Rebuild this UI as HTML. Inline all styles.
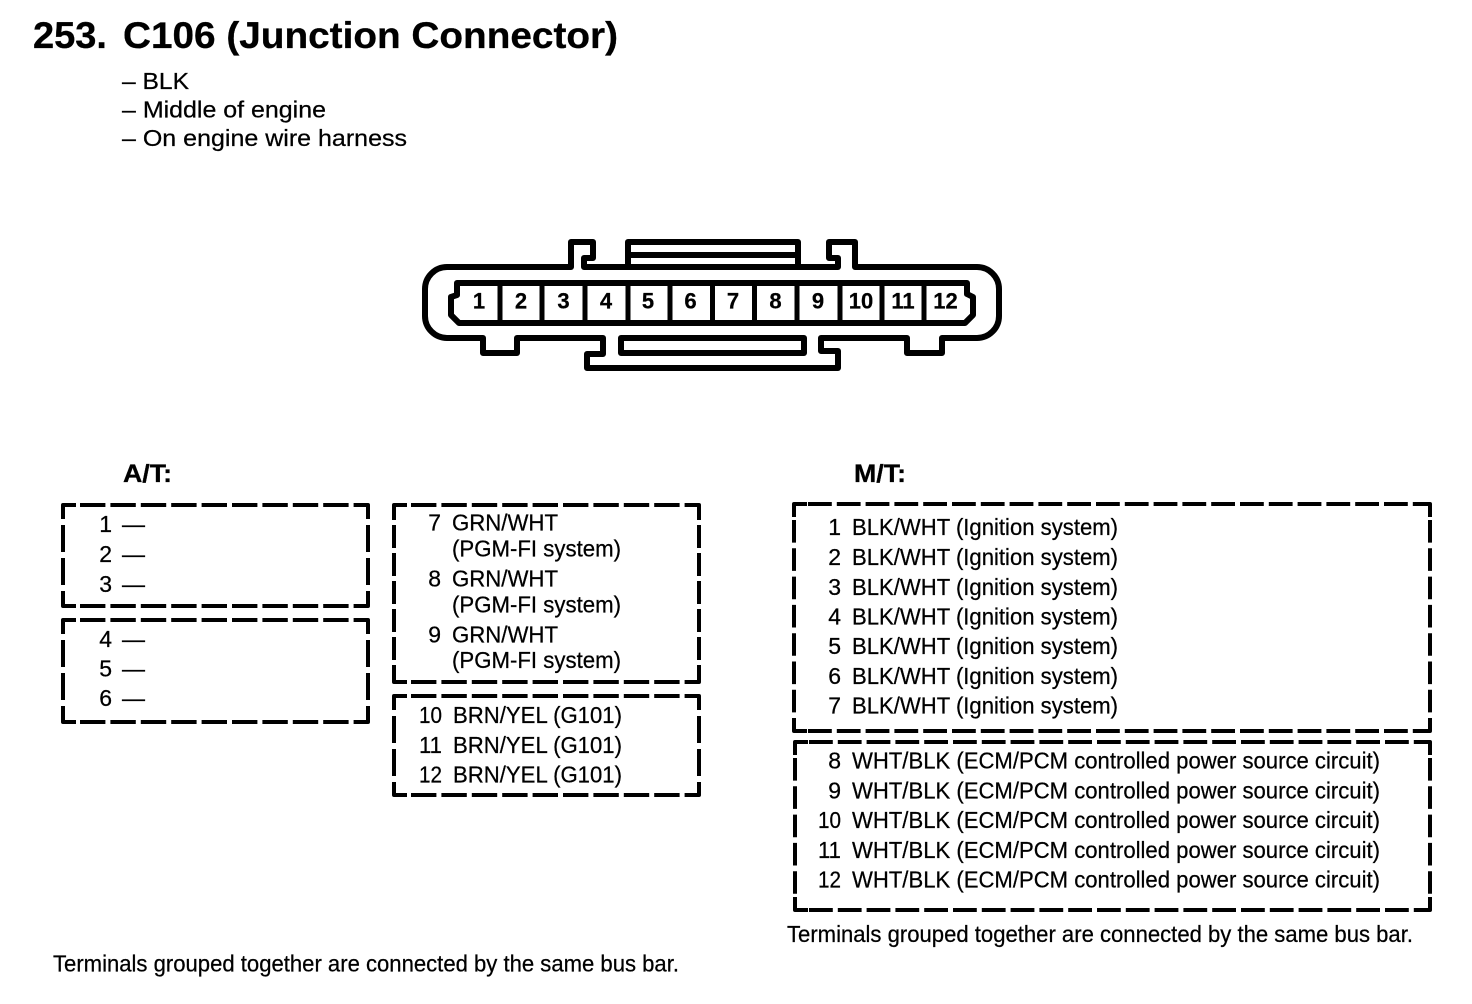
<!DOCTYPE html>
<html><head><meta charset="utf-8"><style>
html,body{margin:0;padding:0;background:#fff}
svg{display:block}
text{font-family:"Liberation Sans",sans-serif;fill:#000;font-size:23px;stroke:#000;stroke-width:.25px}
.b{font-weight:bold;stroke-width:.3px}
.n{text-anchor:end}
.c{text-anchor:middle;font-weight:bold;font-size:22px}
line{stroke:#000;stroke-width:4}
.h{stroke-dasharray:25.400 5;stroke-dashoffset:13.400}
.v{stroke-dasharray:27 6;stroke-dashoffset:13}
.vm{stroke-dasharray:23 5;stroke-dashoffset:8}
.hb{stroke-dasharray:23.800 5;stroke-dashoffset:14.800}
.vb{stroke-dasharray:22.600 5.700;stroke-dashoffset:12.300}
.k{fill:none;stroke:#000;stroke-width:4;stroke-linejoin:round}
.o{fill:none;stroke:#000;stroke-width:6;stroke-linejoin:round;stroke-linecap:round}
.w{fill:none;stroke:#000;stroke-width:5}
</style></head><body>
<svg width="1472" height="1004" viewBox="0 0 1472 1004" xmlns="http://www.w3.org/2000/svg">
<text class="b" x="33" y="48" style="font-size:37px" textLength="74" lengthAdjust="spacingAndGlyphs">253.</text>
<text class="b" x="123" y="48" style="font-size:37px" textLength="495" lengthAdjust="spacingAndGlyphs">C106 (Junction Connector)</text>
<text x="122" y="89" textLength="67" lengthAdjust="spacingAndGlyphs">– BLK</text>
<text x="122" y="117.500" textLength="204" lengthAdjust="spacingAndGlyphs">– Middle of engine</text>
<text x="122" y="146" textLength="285" lengthAdjust="spacingAndGlyphs">– On engine wire harness</text>

<!-- connector -->
<path class="o" d="M447 267H571V242H593V258H584V267H838V258H829V242H855V267H977A22 22 0 0 1 999 289V316A22 22 0 0 1 977 338H942V353H907V338H821V351H838V368H587V354H603V338H517V353H483V338H447A22 22 0 0 1 425 316V289A22 22 0 0 1 447 267Z"/>
<path class="o" d="M628 267V242H798V267M628 255H798"/>
<path class="o" d="M621 338H804V353H621Z"/>
<path class="o" d="M457 283H967V294L973 297V315L965 323H459L451 315V297L457 295Z"/>
<path class="w" d="M500 283V323M542 283V323M585 283V323M628 283V323M670 283V323M712.500 283V323M754.500 283V323M797 283V323M840 283V323M882 283V323M924 283V323"/>
<text class="c" x="479" y="308.500">1</text><text class="c" x="521" y="308.500">2</text><text class="c" x="563.500" y="308.500">3</text><text class="c" x="606" y="308.500">4</text><text class="c" x="648" y="308.500">5</text><text class="c" x="690.500" y="308.500">6</text><text class="c" x="733" y="308.500">7</text><text class="c" x="775.500" y="308.500">8</text><text class="c" x="818" y="308.500">9</text><text class="c" x="861" y="308.500">10</text><text class="c" x="903" y="308.500">11</text><text class="c" x="945.500" y="308.500">12</text>

<text class="b" x="123" y="482" style="font-size:25px" textLength="49" lengthAdjust="spacingAndGlyphs">A/T:</text>
<text class="b" x="854" y="482" style="font-size:25px" textLength="52" lengthAdjust="spacingAndGlyphs">M/T:</text>

<!-- dashed boxes: box 1 -->
<line class="h" x1="63" y1="505" x2="368" y2="505"/><line class="h" x1="63" y1="606" x2="368" y2="606"/>
<line class="v" x1="63" y1="505" x2="63" y2="606"/><line class="v" x1="368" y1="505" x2="368" y2="606"/>
<!-- box 2 -->
<line class="h" x1="63" y1="620" x2="368" y2="620"/><line class="h" x1="63" y1="722" x2="368" y2="722"/>
<line class="v" x1="63" y1="620" x2="63" y2="722"/><line class="v" x1="368" y1="620" x2="368" y2="722"/>
<!-- box 3 -->
<line class="h" x1="394" y1="505" x2="699" y2="505"/><line class="h" x1="394" y1="682" x2="699" y2="682"/>
<line class="vm" x1="394" y1="505" x2="394" y2="682"/><line class="vm" x1="699" y1="505" x2="699" y2="682"/>
<!-- box 4 -->
<line class="h" x1="394" y1="696" x2="699" y2="696"/><line class="h" x1="394" y1="795" x2="699" y2="795"/>
<line class="v" x1="394" y1="696" x2="394" y2="795"/><line class="v" x1="699" y1="696" x2="699" y2="795"/>
<!-- box 5 -->
<line class="hb" x1="794" y1="504" x2="1430" y2="504"/><line class="hb" x1="794" y1="731" x2="1430" y2="731"/>
<line class="vb" x1="794" y1="504" x2="794" y2="731"/><line class="vb" x1="1430" y1="504" x2="1430" y2="731"/>
<!-- box 6 -->
<line class="hb" x1="795" y1="742" x2="1430" y2="742"/><line class="hb" x1="795" y1="910" x2="1430" y2="910"/>
<line class="vb" x1="795" y1="742" x2="795" y2="910"/><line class="vb" x1="1430" y1="742" x2="1430" y2="910"/>
<path class="k" d="M63 518V505H76M355 505H368V518M368 593V606H355M76 606H63V593M63 633V620H76M355 620H368V633M368 709V722H355M76 722H63V709M394 518V505H407M686 505H699V518M699 669V682H686M407 682H394V669M394 709V696H407M686 696H699V709M699 782V795H686M407 795H394V782M794 517V504H807M1417 504H1430V517M1430 718V731H1417M807 731H794V718M795 755V742H808M1417 742H1430V755M1430 897V910H1417M808 910H795V897"/>

<!-- A/T left -->
<g>
<text class="n" x="112" y="532">1</text><text x="122" y="532" textLength="23" lengthAdjust="spacingAndGlyphs">—</text>
<text class="n" x="112" y="562">2</text><text x="122" y="562" textLength="23" lengthAdjust="spacingAndGlyphs">—</text>
<text class="n" x="112" y="592">3</text><text x="122" y="592" textLength="23" lengthAdjust="spacingAndGlyphs">—</text>
<text class="n" x="112" y="647">4</text><text x="122" y="647" textLength="23" lengthAdjust="spacingAndGlyphs">—</text>
<text class="n" x="112" y="676.500">5</text><text x="122" y="676.500" textLength="23" lengthAdjust="spacingAndGlyphs">—</text>
<text class="n" x="112" y="706">6</text><text x="122" y="706" textLength="23" lengthAdjust="spacingAndGlyphs">—</text>
</g>

<!-- A/T right -->
<g>
<text class="n" x="441" y="530.500">7</text><text x="452" y="530.500" textLength="106" lengthAdjust="spacingAndGlyphs">GRN/WHT</text>
<text x="452" y="556.500" textLength="169" lengthAdjust="spacingAndGlyphs">(PGM-FI system)</text>
<text class="n" x="441" y="586.500">8</text><text x="452" y="586.500" textLength="106" lengthAdjust="spacingAndGlyphs">GRN/WHT</text>
<text x="452" y="612.500" textLength="169" lengthAdjust="spacingAndGlyphs">(PGM-FI system)</text>
<text class="n" x="441" y="642.500">9</text><text x="452" y="642.500" textLength="106" lengthAdjust="spacingAndGlyphs">GRN/WHT</text>
<text x="452" y="668" textLength="169" lengthAdjust="spacingAndGlyphs">(PGM-FI system)</text>
<text x="419" y="723" textLength="23" lengthAdjust="spacingAndGlyphs">10</text><text x="453" y="723" textLength="169" lengthAdjust="spacingAndGlyphs">BRN/YEL (G101)</text>
<text x="419" y="753" textLength="23" lengthAdjust="spacingAndGlyphs">11</text><text x="453" y="753" textLength="169" lengthAdjust="spacingAndGlyphs">BRN/YEL (G101)</text>
<text x="419" y="782.500" textLength="23" lengthAdjust="spacingAndGlyphs">12</text><text x="453" y="782.500" textLength="169" lengthAdjust="spacingAndGlyphs">BRN/YEL (G101)</text>
</g>

<!-- M/T -->
<g>
<text class="n" x="841" y="535">1</text><text x="852" y="535" textLength="266" lengthAdjust="spacingAndGlyphs">BLK/WHT (Ignition system)</text>
<text class="n" x="841" y="565">2</text><text x="852" y="565" textLength="266" lengthAdjust="spacingAndGlyphs">BLK/WHT (Ignition system)</text>
<text class="n" x="841" y="595">3</text><text x="852" y="595" textLength="266" lengthAdjust="spacingAndGlyphs">BLK/WHT (Ignition system)</text>
<text class="n" x="841" y="624.500">4</text><text x="852" y="624.500" textLength="266" lengthAdjust="spacingAndGlyphs">BLK/WHT (Ignition system)</text>
<text class="n" x="841" y="654">5</text><text x="852" y="654" textLength="266" lengthAdjust="spacingAndGlyphs">BLK/WHT (Ignition system)</text>
<text class="n" x="841" y="684">6</text><text x="852" y="684" textLength="266" lengthAdjust="spacingAndGlyphs">BLK/WHT (Ignition system)</text>
<text class="n" x="841" y="713.500">7</text><text x="852" y="713.500" textLength="266" lengthAdjust="spacingAndGlyphs">BLK/WHT (Ignition system)</text>
<text class="n" x="841" y="768.500">8</text><text x="852" y="768.500" textLength="528" lengthAdjust="spacingAndGlyphs">WHT/BLK (ECM/PCM controlled power source circuit)</text>
<text class="n" x="841" y="798.500">9</text><text x="852" y="798.500" textLength="528" lengthAdjust="spacingAndGlyphs">WHT/BLK (ECM/PCM controlled power source circuit)</text>
<text x="818" y="828" textLength="23" lengthAdjust="spacingAndGlyphs">10</text><text x="852" y="828" textLength="528" lengthAdjust="spacingAndGlyphs">WHT/BLK (ECM/PCM controlled power source circuit)</text>
<text x="818" y="858" textLength="23" lengthAdjust="spacingAndGlyphs">11</text><text x="852" y="858" textLength="528" lengthAdjust="spacingAndGlyphs">WHT/BLK (ECM/PCM controlled power source circuit)</text>
<text x="818" y="887.500" textLength="23" lengthAdjust="spacingAndGlyphs">12</text><text x="852" y="887.500" textLength="528" lengthAdjust="spacingAndGlyphs">WHT/BLK (ECM/PCM controlled power source circuit)</text>
</g>

<text x="787" y="942" textLength="626" lengthAdjust="spacingAndGlyphs">Terminals grouped together are connected by the same bus bar.</text>
<text x="53" y="971.500" textLength="626" lengthAdjust="spacingAndGlyphs">Terminals grouped together are connected by the same bus bar.</text>
</svg>
</body></html>
